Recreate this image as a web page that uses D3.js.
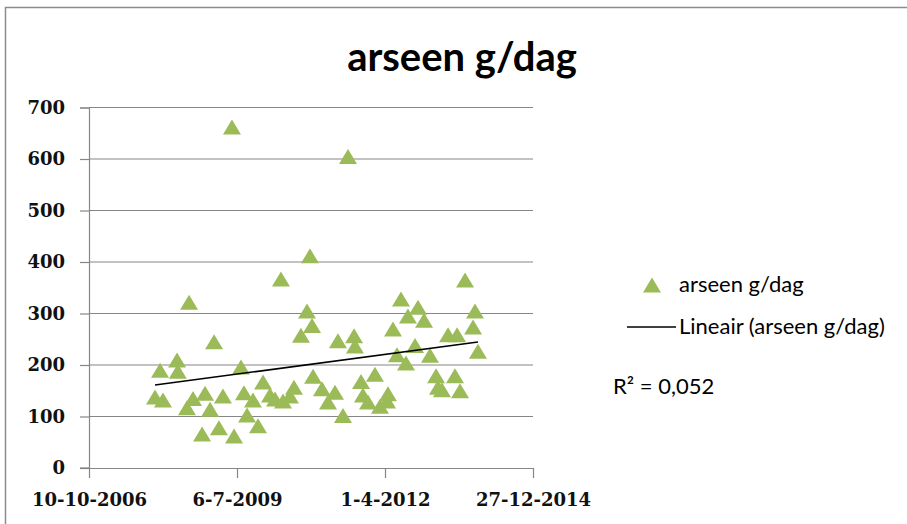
<!DOCTYPE html>
<html>
<head>
<meta charset="utf-8">
<script src="https://cdn.jsdelivr.net/npm/d3@7"></script>
<style>
  body { margin: 0; background: #fff; }
  svg { display: block; }
</style>
</head>
<body>
<svg id="chart"></svg>
<script>
// Excel date serials (x) and arsenic load in g/day (y)
const dateSerials = [
  39446, 39500, 39480, 39595, 39600, 39662, 39676, 39703, 39764, 39784,
  39818, 39845, 39878, 39905, 39966, 39980, 40027, 40047, 40068, 40108,
  40142, 40176, 40223, 40257, 40297, 40311, 40358, 40385, 40432, 40473,
  40493, 40507, 40514, 40574, 40615, 40662, 40682, 40716, 40750, 40791,
  40797, 40838, 40851, 40885, 40932, 40966, 41014, 41020, 41054, 41081,
  41108, 41142, 41155, 41203, 41223, 41264, 41304, 41345, 41358, 41385,
  41426, 41473, 41487, 41507, 41541, 41595, 41608, 41628
];
const arseenValues = [
  136, 130, 188, 208, 186, 115, 320, 133, 64, 143,
  112, 243, 76, 138, 660, 60, 194, 144, 101, 130,
  80, 165, 140, 132, 365, 128, 138, 155, 256, 303,
  410, 275, 176, 152, 126, 145, 245, 100, 603, 255,
  235, 166, 140, 126, 180, 118, 128, 142, 268, 218,
  326, 202, 293, 236, 310, 285, 217, 177, 155, 150,
  257, 177, 257, 148, 363, 272, 303, 225
];
const xTickSerials = [39000, 40000, 41000, 42000];
const xTickLabels = ["10-10-2006", "6-7-2009", "1-4-2012", "27-12-2014"];
const yTicks = [0, 100, 200, 300, 400, 500, 600, 700];
const seriesName = "arseen g/dag";
const trendName = "Lineair (arseen g/dag)";
const rSquaredLabel = "R² = 0,052";

const width = 907, height = 524;
const plot = { left: 89, right: 533, top: 107.5, bottom: 468 };
const green = "#9bbb59";

const svg = d3.select("#chart").attr("width", width).attr("height", height);

// outer chart frame
svg.append("rect")
  .attr("x", 5.5).attr("y", 7.5)
  .attr("width", 920).attr("height", 540)
  .attr("fill", "#fff")
  .attr("stroke", "#8c8c8c")
  .attr("stroke-width", 1.5);

const x = d3.scaleLinear().domain([39000, 42000]).range([plot.left, plot.right]);
const y = d3.scaleLinear().domain([0, 700]).range([plot.bottom, plot.top]);

// title
svg.append("text")
  .attr("x", 462).attr("y", 71)
  .attr("text-anchor", "middle")
  .style("font-family", "Lato, 'Open Sans', sans-serif")
  .style("font-weight", "bold")
  .style("font-size", "40px")
  .attr("fill", "#000")
  .text(seriesName);

// horizontal gridlines
svg.append("g")
  .selectAll("line")
  .data(yTicks.filter(d => d > 0))
  .join("line")
  .attr("x1", plot.left).attr("x2", plot.right)
  .attr("y1", d => y(d)).attr("y2", d => y(d))
  .attr("stroke", "#868686")
  .attr("stroke-width", 1.2);

const tickFont = "'DejaVu Serif', 'Liberation Serif', serif";

// Y axis
const yAxis = d3.axisLeft(y).tickValues(yTicks).tickSize(9).tickPadding(15);
svg.append("g")
  .attr("transform", "translate(" + plot.left + ",0)")
  .call(yAxis)
  .call(g => g.selectAll("line, path").attr("stroke", "#868686").attr("stroke-width", 1.2))
  .call(g => g.selectAll("text")
    .style("font-family", tickFont)
    .style("font-weight", "bold")
    .style("font-size", "18px")
    .attr("fill", "#111"));

// X axis
const xAxis = d3.axisBottom(x)
  .tickValues(xTickSerials)
  .tickFormat((d, i) => xTickLabels[i])
  .tickSize(10).tickPadding(15).tickSizeOuter(0);
svg.append("g")
  .attr("transform", "translate(0," + plot.bottom + ")")
  .call(xAxis)
  .call(g => g.selectAll("line, path").attr("stroke", "#868686").attr("stroke-width", 1.2))
  .call(g => g.selectAll("text")
    .style("font-family", tickFont)
    .style("font-weight", "bold")
    .style("font-size", "18px")
    .attr("fill", "#111"));

// extend the zero line to the left like Excel's tick
svg.append("line")
  .attr("x1", plot.left - 9).attr("x2", plot.left)
  .attr("y1", y(0)).attr("y2", y(0))
  .attr("stroke", "#868686").attr("stroke-width", 1.2);

const points = dateSerials.map((d, i) => ({ x: d, y: arseenValues[i] }));

// triangle marker centred on the point
const tri = "M0,-8.5L9,6.5L-9,6.5Z";

svg.append("g")
  .selectAll("path")
  .data(points)
  .join("path")
  .attr("d", tri)
  .attr("transform", d => "translate(" + x(d.x) + "," + y(d.y) + ")")
  .attr("fill", green);

// linear trendline (least squares)
const mx = d3.mean(points, d => d.x), my = d3.mean(points, d => d.y);
const slope = d3.sum(points, d => (d.x - mx) * (d.y - my)) / d3.sum(points, d => (d.x - mx) ** 2);
const intercept = my - slope * mx;
const xExt = d3.extent(dateSerials);
svg.append("path")
  .datum(xExt.map(v => [v, intercept + slope * v]))
  .attr("d", d3.line().x(d => x(d[0])).y(d => y(d[1])))
  .attr("stroke", "#000")
  .attr("stroke-width", 1.5)
  .attr("fill", "none");

// legend
const legendFont = "Lato, 'Open Sans', sans-serif";
const legend = svg.append("g");
legend.append("path")
  .attr("d", tri)
  .attr("transform", "translate(652,286)")
  .attr("fill", green);
legend.append("text")
  .attr("x", 679).attr("y", 292)
  .style("font-family", legendFont).style("font-size", "22px")
  .text(seriesName);
legend.append("line")
  .attr("x1", 627).attr("x2", 676)
  .attr("y1", 327).attr("y2", 327)
  .attr("stroke", "#000").attr("stroke-width", 1.5);
legend.append("text")
  .attr("x", 679).attr("y", 334)
  .style("font-family", legendFont).style("font-size", "22px")
  .text(trendName);

svg.append("text")
  .attr("x", 613).attr("y", 394)
  .style("font-family", legendFont).style("font-size", "22px")
  .text(rSquaredLabel);
</script>
</body>
</html>
